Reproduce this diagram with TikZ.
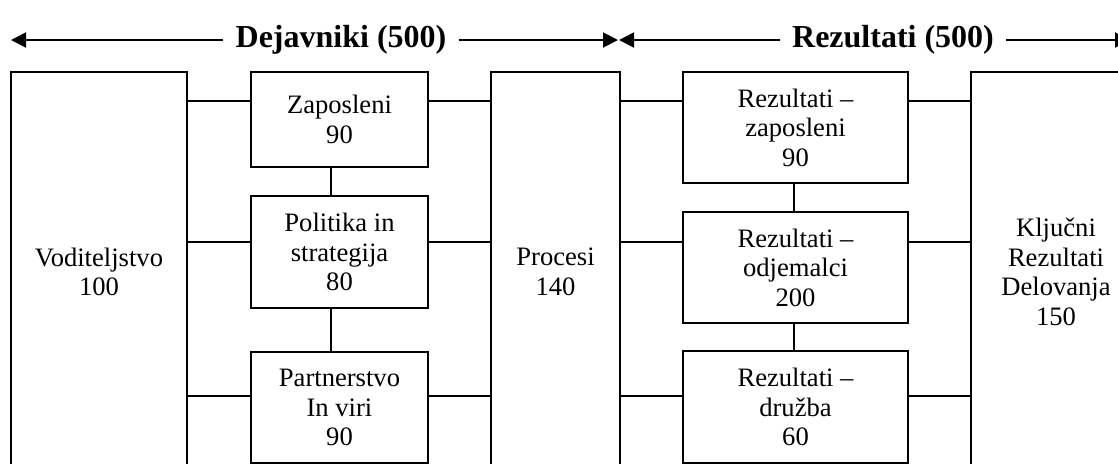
\documentclass[tikz,border=0pt]{standalone}
\usepackage{fontspec}
\setmainfont{Liberation Serif}
\usetikzlibrary{positioning,arrows.meta}

\begin{document}
\begin{tikzpicture}[x=0.5pt,y=-0.5pt,
  box/.style={draw,line width=1pt,align=center,inner sep=0pt,
    font=\fontsize{13.3}{14.8}\selectfont},
  tall/.style={box,minimum height=200pt},
  head/.style={font=\fontsize{16}{19}\selectfont\bfseries,inner xsep=6pt},
  link/.style={line width=0.75pt},
  span/.style={line width=1pt,-{Triangle[length=7.5pt,width=7.5pt]}}]
 \useasboundingbox (0,0) rectangle (1118,463);
 \clip (0,0) rectangle (1118,463);

 \node[tall,minimum width=88pt,anchor=north west] (vod) at (10,71) {Voditeljstvo\\100};
 \node[box,minimum width=88.5pt,minimum height=47.5pt]
              (zap) [right=31pt of vod.north east,anchor=north west] {Zaposleni\\90};
 \node[box,minimum width=88.5pt,minimum height=56pt]
              (pol) [below=13.5pt of zap] {Politika in\\strategija\\80};
 \node[box,minimum width=88.5pt,minimum height=55.5pt]
              (par) [below=21pt of pol] {Partnerstvo\\In viri\\90};
 \node[tall,minimum width=64.5pt]
              (proc) [right=30.5pt of zap.north east,anchor=north west] {Procesi\\140};
 \node[box,minimum width=112.5pt,minimum height=55.5pt]
              (rzap) [right=30.5pt of proc.north east,anchor=north west] {Rezultati –\\zaposleni\\90};
 \node[box,minimum width=112.5pt,minimum height=55.5pt]
              (rodj) [below=13.5pt of rzap] {Rezultati –\\odjemalci\\200};
 \node[box,minimum width=112.5pt,minimum height=56pt]
              (rdru) [below=13pt of rodj] {Rezultati –\\družba\\60};
 \node[tall,minimum width=85pt]
              (klj) [right=30.5pt of rzap.north east,anchor=north west] {Ključni\\Rezultati\\Delovanja\\150};

 % headings over the two halves
 \node[head] (dej) at (341,40) {Dejavniki (500)};
 \node[head] (rez) at (893,40) {Rezultati (500)};
 \coordinate (d0) at (11,40);  \coordinate (d1) at (618,40);
 \coordinate (z0) at (619,40); \coordinate (z1) at (1130,40);

 \draw[span] (dej.west |- d0) -- (d0);
 \draw[span] (dej.east |- d0) -- (d1);
 \draw[span] (rez.west |- z0) -- (z0);
 \draw[span] (rez.east |- z0) -- (z1);

 % rows and columns of the links
 \coordinate (r1) at (0,101);
 \coordinate (r2) at (0,242);
 \coordinate (r3) at (0,396);
 \coordinate (c1) at (331,0);
 \coordinate (c2) at (794,0);

 \path[link] (vod.east |- r1) edge (zap.west |- r1)
             (zap.east |- r1) edge (proc.west |- r1)
             (proc.east |- r1) edge (rzap.west |- r1)
             (rzap.east |- r1) edge (klj.west |- r1)
             (vod.east |- r2) edge (pol.west |- r2)
             (pol.east |- r2) edge (proc.west |- r2)
             (proc.east |- r2) edge (rodj.west |- r2)
             (rodj.east |- r2) edge (klj.west |- r2)
             (vod.east |- r3) edge (par.west |- r3)
             (par.east |- r3) edge (proc.west |- r3)
             (proc.east |- r3) edge (rdru.west |- r3)
             (rdru.east |- r3) edge (klj.west |- r3)
             (zap.south -| c1) edge (pol.north -| c1)
             (pol.south -| c1) edge (par.north -| c1)
             (rzap.south -| c2) edge (rodj.north -| c2)
             (rodj.south -| c2) edge (rdru.north -| c2);
\end{tikzpicture}
\end{document}
